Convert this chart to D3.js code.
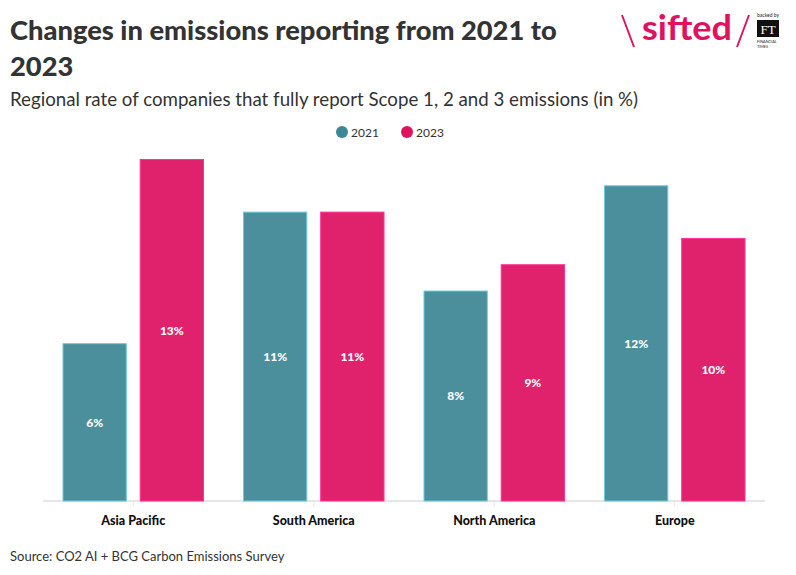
<!DOCTYPE html>
<html lang="en">
<head>
<meta charset="UTF-8">
<title>Changes in emissions reporting</title>
<script src="https://d3js.org/d3.v7.min.js"></script>
<style>
  body { margin: 0; background: #fff; }
  svg text { font-family: Lato, "Noto Sans", sans-serif; }
</style>
</head>
<body>
<div id="chart"></div>
<script>
const regions = ["Asia Pacific", "South America", "North America", "Europe"];
const years = ["2021", "2023"];
const values2021 = [6, 11, 8, 12];
const values2023 = [13, 11, 9, 10];
const yearColors = ["#4b8f9d", "#e0226d"];
const legendColors = ["#3c8797", "#e0115f"];

const W = 796, H = 575;
const margin = { top: 159, right: 31, bottom: 74, left: 43 };
const width = W - margin.left - margin.right;
const height = H - margin.top - margin.bottom;

const svg = d3.select("#chart").append("svg")
    .attr("width", W)
    .attr("height", H);

// titles
svg.append("text")
    .attr("x", 10).attr("y", 40)
    .attr("font-size", 27.3).attr("font-weight", 900)
    .attr("fill", "#333")
    .text("Changes in emissions reporting from 2021 to");
svg.append("text")
    .attr("x", 10).attr("y", 76)
    .attr("font-size", 27.3).attr("font-weight", 900)
    .attr("fill", "#333")
    .text("2023");
svg.append("text")
    .attr("x", 10).attr("y", 106)
    .attr("font-size", 18.7)
    .attr("fill", "#333")
    .text("Regional rate of companies that fully report Scope 1, 2 and 3 emissions (in %)");

// logo
const pink = "#e0115f";
const logo = svg.append("g");
logo.append("line").attr("x1", 622).attr("y1", 15).attr("x2", 634).attr("y2", 47)
    .attr("stroke", pink).attr("stroke-width", 2);
logo.append("line").attr("x1", 749).attr("y1", 15).attr("x2", 737).attr("y2", 47)
    .attr("stroke", pink).attr("stroke-width", 2);
logo.append("text").attr("x", 642).attr("y", 40).attr("font-size", 35)
    .attr("textLength", 90).attr("lengthAdjust", "spacingAndGlyphs")
    .attr("fill", pink).attr("font-weight", 700).text("sifted");
logo.append("text").attr("x", 757).attr("y", 17).attr("font-size", 5)
    .attr("fill", "#222").text("backed by");
logo.append("rect").attr("x", 757).attr("y", 20).attr("width", 22).attr("height", 17)
    .attr("fill", "#111");
logo.append("text").attr("x", 768).attr("y", 34).attr("font-size", 13)
    .attr("text-anchor", "middle").attr("fill", "#fff")
    .style("font-family", "'Liberation Serif', serif").text("FT");
logo.append("text").attr("x", 757).attr("y", 43).attr("font-size", 3.8)
    .attr("fill", "#222").text("FINANCIAL");
logo.append("text").attr("x", 757).attr("y", 48).attr("font-size", 3.8)
    .attr("fill", "#222").text("TIMES");

// legend
const legend = svg.append("g").selectAll("g")
    .data(years)
    .join("g")
    .attr("transform", (d, i) => `translate(${342 + i * 65},132)`);
legend.append("circle").attr("r", 6).attr("fill", (d, i) => legendColors[i]);
legend.append("text").attr("x", 9).attr("y", 4.5)
    .attr("font-size", 12).attr("fill", "#333").text(d => d);

const g = svg.append("g").attr("transform", `translate(${margin.left},${margin.top})`);

const x0 = d3.scaleBand().domain(regions).range([0, width]).paddingInner(0).paddingOuter(0);
const x1 = d3.scaleBand().domain(years).range([20, x0.bandwidth() - 20]).paddingInner(0.18);
const y = d3.scaleLinear().domain([0, 13]).range([height, 0]);

const rows = regions.map((r, i) => ({ region: r, vals: [values2021[i], values2023[i]] }));

// baseline axis
const xAxis = g.append("g")
    .attr("transform", `translate(0,${height})`)
    .call(d3.axisBottom(x0).tickSize(6).tickPadding(9));
xAxis.select(".domain").attr("stroke", "#e6e6e6").attr("stroke-width", 2)
    .attr("d", `M0,0H${width}`);
xAxis.selectAll(".tick line").attr("stroke", "#e6e6e6");
xAxis.selectAll(".tick text")
    .attr("font-size", 12.5).attr("font-weight", 900).attr("fill", "#111")
    .style("font-family", "Lato, 'Noto Sans', sans-serif");

const groups = g.selectAll(".region")
    .data(rows)
    .join("g")
    .attr("class", "region")
    .attr("transform", d => `translate(${x0(d.region)},0)`);

const bars = groups.selectAll("g.bar")
    .data(d => d.vals.map((v, i) => ({ year: years[i], value: v, i })))
    .join("g").attr("class", "bar");

bars.append("rect")
    .attr("x", d => x1(d.year))
    .attr("width", x1.bandwidth())
    .attr("y", d => y(d.value) + 0.5)
    .attr("height", d => height - y(d.value) - 0.5)
    .attr("fill", d => yearColors[d.i])
    .attr("stroke", d => d3.color(yearColors[d.i]).brighter(1))
    .attr("stroke-width", 1);

bars.append("text")
    .attr("x", d => x1(d.year) + x1.bandwidth() / 2)
    .attr("y", d => (y(d.value) + height) / 2 + 4.5)
    .attr("text-anchor", "middle")
    .attr("font-size", 12).attr("font-weight", 900).attr("fill", "#fff")
    .text(d => d.value + "%");

svg.append("text")
    .attr("x", 10).attr("y", 561)
    .attr("font-size", 13).attr("fill", "#333")
    .text("Source: CO2 AI + BCG Carbon Emissions Survey");
</script>
</body>
</html>
